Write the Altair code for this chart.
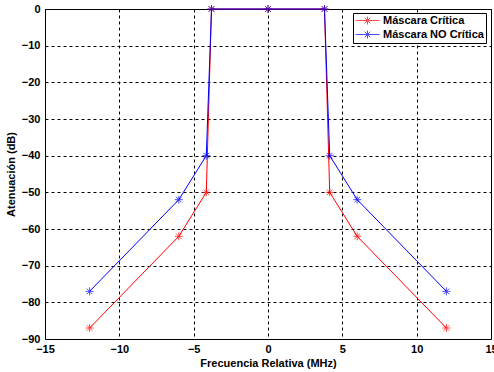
import altair as alt
import pandas as pd

freq_critica = [-12, -6, -4.15, -3.8, 0, 3.8, 4.15, 6, 12]
aten_critica = [-87, -62, -50, 0, 0, 0, -50, -62, -87]
freq_no_critica = [-12, -6, -4.15, -3.8, 0, 3.8, 4.15, 6, 12]
aten_no_critica = [-77, -52, -40, 0, 0, 0, -40, -52, -77]
series = ["Máscara Crítica", "Máscara NO Crítica"]
colors = ["#ff0000", "#0000ff"]
x_ticks = [-15, -10, -5, 0, 5, 10, 15]
y_ticks = [0, -10, -20, -30, -40, -50, -60, -70, -80, -90]

rows = []
for i, (f, a) in enumerate(zip(freq_critica, aten_critica)):
    rows.append({"f": f, "a": a, "s": series[0], "o": i})
for i, (f, a) in enumerate(zip(freq_no_critica, aten_no_critica)):
    rows.append({"f": f, "a": a, "s": series[1], "o": i})
df = pd.DataFrame(rows)

FONT = "Liberation Sans"
star = "M-1,0L1,0M0,-1L0,1M-0.7,-0.7L0.7,0.7M-0.7,0.7L0.7,-0.7"
legend_sym = "M-2.4,0L2.4,0M-0.8,0L0.8,0M0,-0.8L0,0.8M-0.56,-0.56L0.56,0.56M-0.56,0.56L0.56,-0.56"

x = alt.X("f:Q", scale=alt.Scale(domain=[-15, 15], nice=False, zero=False),
          axis=alt.Axis(values=x_ticks, title="Frecuencia Relativa (MHz)", grid=True,
                        gridColor="black", gridDash=[3, 3], gridOpacity=1, gridWidth=1,
                        ticks=False, labelPadding=4, titlePadding=3, domain=False,
                        labelFlush=False))
y = alt.Y("a:Q", scale=alt.Scale(domain=[-90, 0], nice=False, zero=False),
          axis=alt.Axis(values=y_ticks, title="Atenuación (dB)", grid=True,
                        gridColor="black", gridDash=[3, 3], gridOpacity=1, gridWidth=1,
                        ticks=False, labelPadding=5, titlePadding=5, domain=False,
                        labelFlush=False))
color = alt.Color("s:N", scale=alt.Scale(domain=series, range=colors),
                  legend=alt.Legend(title=None, orient="none", legendX=308, legendY=4,
                                    symbolType=legend_sym, symbolSize=100, symbolStrokeWidth=1,
                                    symbolOffset=7, labelOffset=10,
                                    fillColor="white", strokeColor="black", padding=2,
                                    rowPadding=1, labelFont=FONT, labelFontSize=11,
                                    labelFontWeight="bold",
                                    labelColor="black", symbolFillColor="transparent"))

base = alt.Chart(df).encode(x=x, y=y, color=color, order="o:Q", detail="s:N")
lines = base.mark_line(strokeWidth=1)
pts = base.mark_point(shape=star, size=64, filled=False, strokeWidth=1)

chart = alt.layer(lines, pts).properties(
    width=446, height=330,
    autosize=alt.AutoSizeParams(type="none"),
    padding={"left": 45, "top": 9, "right": 3, "bottom": 33},
    background="white",
).configure_view(stroke="black", strokeWidth=1).configure_axis(
    labelFont=FONT, labelFontSize=11, labelColor="black", labelFontWeight="bold",
    titleFont=FONT, titleFontSize=11, titleColor="black", titleFontWeight="bold"
)

chart.save("out.html", embed_options={"renderer": "svg", "actions": False})
